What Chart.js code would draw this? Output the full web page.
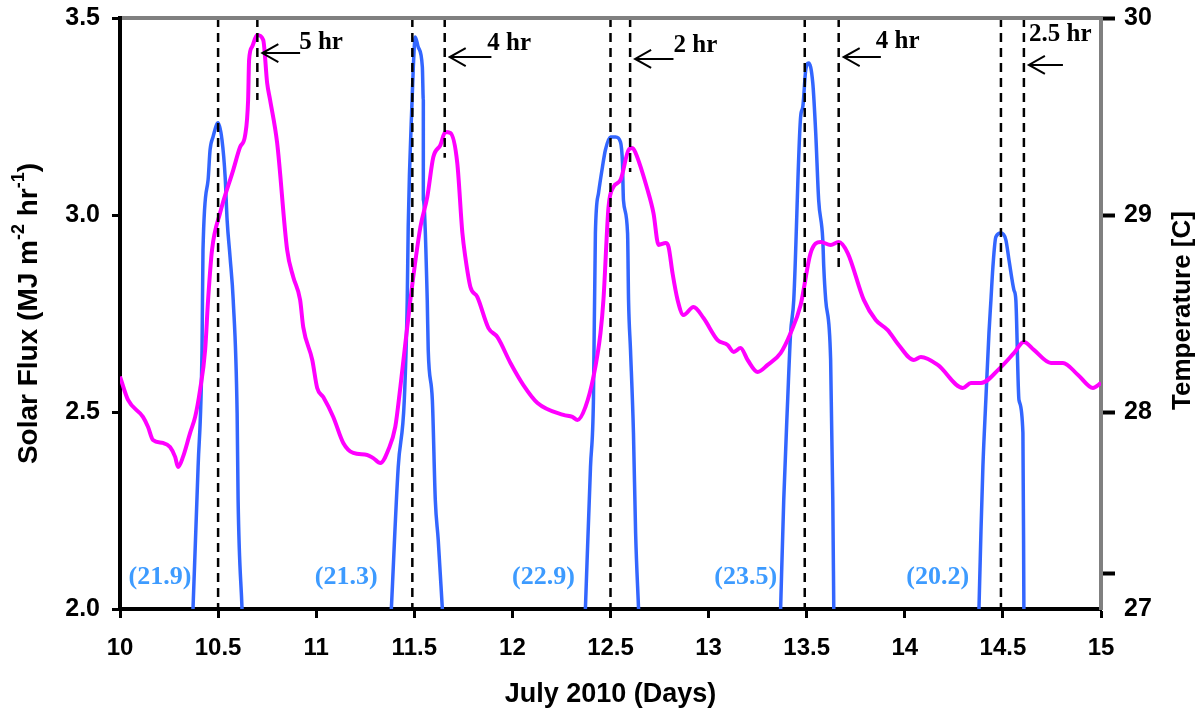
<!doctype html>
<html lang="en">
  <head>
    <meta charset="UTF-8" />
    <title>Solar Flux and Temperature, July 2010</title>
    <script src="https://cdn.jsdelivr.net/npm/chart.js"></script>
    <style>
      body {
        margin: 0;
        background: #fff;
      }
      #chart {
        display: block;
      }
    </style>
  </head>
  <body>
    <canvas id="chart" width="1203" height="715"></canvas>

    <script>
      // Axis ticks
      const xTickValues = [10, 10.5, 11, 11.5, 12, 12.5, 13, 13.5, 14, 14.5, 15];
      const xTickLabels = ['10', '10.5', '11', '11.5', '12', '12.5', '13', '13.5', '14', '14.5', '15'];
      const fluxTickValues = [2, 2.5, 3, 3.5];
      const fluxTickLabels = ['2.0', '2.5', '3.0', '3.5'];
      const tempTickValues = [27, 27.18, 28, 29, 30];
      const tempTickLabels = ['27', '', '28', '29', '30'];

      // Temperature [C] (magenta, right axis)
      const tempDays = [
        10.0, 10.041, 10.117, 10.143, 10.168, 10.219, 10.255, 10.281, 10.296, 10.321,
        10.357, 10.383, 10.408, 10.434, 10.449, 10.469, 10.51, 10.577, 10.612, 10.638,
        10.653, 10.658, 10.673, 10.699, 10.73, 10.75, 10.765, 10.801, 10.852, 10.883,
        10.918, 10.934, 10.98, 11.005, 11.036, 11.087, 11.138, 11.189, 11.26, 11.291,
        11.327, 11.367, 11.403, 11.429, 11.48, 11.531, 11.566, 11.597, 11.633, 11.658,
        11.684, 11.719, 11.745, 11.76, 11.786, 11.821, 11.878, 11.923, 11.99, 12.056,
        12.128, 12.26, 12.306, 12.332, 12.372, 12.413, 12.449, 12.464, 12.49, 12.515,
        12.551, 12.592, 12.612, 12.628, 12.689, 12.719, 12.745, 12.781, 12.796, 12.816,
        12.842, 12.872, 12.923, 12.974, 13.046, 13.097, 13.128, 13.163, 13.199, 13.25,
        13.301, 13.367, 13.418, 13.469, 13.52, 13.571, 13.622, 13.663, 13.709, 13.791,
        13.852, 13.913, 13.969, 14.046, 14.082, 14.168, 14.296, 14.337, 14.388, 14.49,
        14.556, 14.607, 14.658, 14.745, 14.806, 14.883, 14.959, 15.0
      ];
      const tempValues = [
        28.18, 28.061, 27.975, 27.924, 27.858, 27.843, 27.822, 27.772, 27.721, 27.772,
        27.893, 27.975, 28.112, 28.315, 28.569, 28.822, 29.01, 29.228, 29.345, 29.406,
        29.584, 29.787, 29.853, 29.914, 29.888, 29.67, 29.584, 29.365, 28.822, 28.685,
        28.569, 28.431, 28.264, 28.122, 28.076, 27.975, 27.843, 27.792, 27.782, 27.766,
        27.741, 27.807, 27.924, 28.127, 28.569, 28.939, 29.091, 29.294, 29.355, 29.421,
        29.416, 29.264, 28.909, 28.787, 28.635, 28.584, 28.426, 28.381, 28.249, 28.137,
        28.046, 27.985, 27.975, 27.959, 28.025, 28.178, 28.401, 28.569, 29.041, 29.142,
        29.178, 29.33, 29.34, 29.315, 29.127, 29.01, 28.848, 28.858, 28.838, 28.706,
        28.569, 28.492, 28.533, 28.477, 28.365, 28.34, 28.305, 28.325, 28.264, 28.203,
        28.239, 28.299, 28.401, 28.543, 28.807, 28.863, 28.848, 28.863, 28.807, 28.569,
        28.467, 28.416, 28.34, 28.264, 28.279, 28.239, 28.122, 28.147, 28.147, 28.228,
        28.299, 28.355, 28.315, 28.249, 28.249, 28.188, 28.122, 28.147
      ];

      // Solar flux (blue, left axis); null = night, below the axis range
      const fluxDays = [
        10.372, 10.398, 10.418, 10.423, 10.449, 10.459, 10.474, 10.5, 10.52, 10.536, 10.546, 10.561, 10.577, 10.597, 10.602, 10.622,
        11.0,
        11.383, 11.418, 11.449, 11.464, 11.469, 11.49, 11.495, 11.505, 11.52, 11.541, 11.546, 11.546, 11.566, 11.571, 11.592, 11.607, 11.622, 11.643,
        12.0,
        12.372, 12.398, 12.413, 12.423, 12.439, 12.459, 12.474, 12.5, 12.526, 12.551, 12.561, 12.566, 12.587, 12.592, 12.602, 12.617, 12.628, 12.643,
        13.0,
        13.367, 13.383, 13.403, 13.418, 13.434, 13.469, 13.48, 13.495, 13.51, 13.531, 13.546, 13.561, 13.582, 13.587, 13.597, 13.622, 13.633, 13.638,
        14.0,
        14.378, 14.388, 14.398, 14.413, 14.429, 14.439, 14.449, 14.464, 14.49, 14.515, 14.531, 14.556, 14.566, 14.582, 14.602, 14.607
      ];
      const fluxValues = [
        2.0, 2.36, 2.657, 2.911, 3.089, 3.165, 3.198, 3.234, 3.19, 3.096, 2.987, 2.893, 2.784, 2.497, 2.277, 2.0,
        null,
        2.0, 2.36, 2.53, 2.784, 2.97, 3.31, 3.376, 3.452, 3.426, 3.376, 3.292, 3.038, 2.784, 2.657, 2.53, 2.277, 2.175, 2.0,
        null,
        2.0, 2.36, 2.53, 2.954, 3.056, 3.122, 3.165, 3.198, 3.198, 3.185, 3.132, 3.038, 2.954, 2.784, 2.657, 2.447, 2.193, 2.0,
        null,
        2.0, 2.277, 2.53, 2.701, 2.784, 3.249, 3.274, 3.368, 3.386, 3.335, 3.208, 3.038, 2.937, 2.868, 2.784, 2.632, 2.277, 2.0,
        null,
        2.0, 2.193, 2.36, 2.53, 2.701, 2.784, 2.868, 2.944, 2.954, 2.937, 2.886, 2.81, 2.784, 2.53, 2.447, 2.0
      ];

      // Peak markers and lag annotations
      const solarPeakDays = [10.5, 11.49, 12.5, 13.49, 14.49];
      const tempPeakDays = [10.7, 11.655, 12.6, 13.663, 14.607];
      const tempPeakLineEnds = [3.292, 3.145, 3.109, 2.86, 2.67];
      const lagLabels = ['5 hr', '4 hr', '2 hr', '4 hr', '2.5 hr'];
      const lagArrowTailDays = [10.918, 11.893, 12.821, 13.878, 14.806];
      const lagArrowY = [3.411, 3.401, 3.396, 3.401, 3.381];
      const lagTextDays = [10.913, 11.872, 12.821, 13.852, 14.633];
      const lagTextY = [3.437, 3.434, 3.431, 3.439, 3.459];

      // Daily solar totals
      const dailyTotalLabels = ['(21.9)', '(21.3)', '(22.9)', '(23.5)', '(20.2)'];
      const dailyTotalDays = [10.204, 11.153, 12.158, 13.189, 14.168];
      const dailyTotalY = 2.081;

      const SANS = "'Liberation Sans', Arial, sans-serif";
      const SERIF = "'Liberation Serif', 'Times New Roman', serif";
      Chart.defaults.font.family = SANS;
      Chart.defaults.color = '#000';

      const dashedLines = [];
      solarPeakDays.forEach(d => {
        dashedLines.push({
          data: [{ x: d, y: 3.5 }, { x: d, y: 2.0 }],
          yAxisID: 'y',
          borderColor: '#000',
          borderWidth: 2.5,
          borderDash: [9, 6],
          order: 0,
        });
      });
      tempPeakDays.forEach((d, i) => {
        dashedLines.push({
          data: [{ x: d, y: 3.5 }, { x: d, y: tempPeakLineEnds[i] }],
          yAxisID: 'y',
          borderColor: '#000',
          borderWidth: 2.5,
          borderDash: [9, 6],
          order: 0,
        });
      });

      function drawRotated(ctx, cx, cy, parts) {
        ctx.save();
        ctx.translate(cx, cy);
        ctx.rotate(-Math.PI / 2);
        ctx.textBaseline = 'middle';
        ctx.textAlign = 'left';
        ctx.fillStyle = '#000';
        let total = 0;
        parts.forEach(p => {
          ctx.font = p.font;
          p.w = ctx.measureText(p.text).width;
          total += p.w;
        });
        let px = -total / 2;
        parts.forEach(p => {
          ctx.font = p.font;
          ctx.fillText(p.text, px, p.dy || 0);
          px += p.w;
        });
        ctx.restore();
      }

      const annotations = {
        id: 'annotations',
        afterDatasetsDraw(chart) {
          const { ctx, chartArea, scales } = chart;
          const x = scales.x;
          const y = scales.y;
          ctx.save();

          // gray top frame
          ctx.strokeStyle = '#808080';
          ctx.lineWidth = 4;
          ctx.beginPath();
          ctx.moveTo(chartArea.left + 2, chartArea.top);
          ctx.lineTo(chartArea.right + 2, chartArea.top);
          ctx.stroke();

          // lag arrows
          ctx.strokeStyle = '#000';
          ctx.lineWidth = 2;
          ctx.fillStyle = '#000';
          ctx.font = 'bold 25px ' + SERIF;
          ctx.textAlign = 'left';
          ctx.textBaseline = 'middle';
          lagLabels.forEach((txt, i) => {
            const tip = x.getPixelForValue(tempPeakDays[i]) + 5;
            const tail = x.getPixelForValue(lagArrowTailDays[i]);
            const ay = y.getPixelForValue(lagArrowY[i]);
            ctx.beginPath();
            ctx.moveTo(tail, ay);
            ctx.lineTo(tip, ay);
            ctx.moveTo(tip + 16, ay - 9);
            ctx.lineTo(tip, ay);
            ctx.lineTo(tip + 16, ay + 9);
            ctx.stroke();
            ctx.fillText(txt, x.getPixelForValue(lagTextDays[i]), y.getPixelForValue(lagTextY[i]));
          });

          // daily totals
          ctx.fillStyle = '#3d9bff';
          ctx.font = 'bold 26px ' + SERIF;
          ctx.textAlign = 'center';
          dailyTotalLabels.forEach((txt, i) => {
            ctx.fillText(txt, x.getPixelForValue(dailyTotalDays[i]), y.getPixelForValue(dailyTotalY));
          });
          ctx.restore();

          // axis titles
          const midY = (chartArea.top + chartArea.bottom) / 2;
          const big = 'bold 28px ' + SANS;
          const sup = 'bold 18px ' + SANS;
          drawRotated(ctx, 29, midY, [
            { text: 'Solar Flux (MJ m', font: big },
            { text: '-2', font: sup, dy: -10 },
            { text: ' hr', font: big },
            { text: '-1', font: sup, dy: -10 },
            { text: ')', font: big },
          ]);
          drawRotated(ctx, 1183, midY - 3, [{ text: 'Temperature [C]', font: 'bold 26px ' + SANS }]);
        },
      };

      const chart = new Chart(document.getElementById('chart').getContext('2d'), {
        type: 'line',
        data: {
          datasets: [
            {
              label: 'Temperature',
              data: tempDays.map((d, i) => ({ x: d, y: tempValues[i] })),
              yAxisID: 'y2',
              borderColor: '#ff00ff',
              borderWidth: 4,
              cubicInterpolationMode: 'monotone',
              order: 1,
            },
            {
              label: 'Solar Flux',
              data: fluxDays.map((d, i) => ({ x: d, y: fluxValues[i] })),
              yAxisID: 'y',
              borderColor: '#3366ff',
              borderWidth: 3.5,
              cubicInterpolationMode: 'monotone',
              spanGaps: false,
              order: 2,
            },
            ...dashedLines,
          ],
        },
        options: {
          responsive: false,
          animation: false,
          devicePixelRatio: 1,
          layout: { padding: { top: 18, left: 0, right: 0, bottom: 0 } },
          plugins: {
            legend: { display: false },
            tooltip: { enabled: false },
          },
          elements: {
            point: { radius: 0 },
            line: { tension: 0, borderCapStyle: 'butt', borderJoinStyle: 'round' },
          },
          scales: {
            x: {
              type: 'linear',
              position: 'bottom',
              min: 10,
              max: 15,
              afterBuildTicks: s => {
                s.ticks = xTickValues.map(v => ({ value: v }));
              },
              afterFit: s => {
                s.height = 106;
                s.paddingLeft = 0;
                s.paddingRight = 0;
              },
              ticks: {
                autoSkip: false,
                maxRotation: 0,
                padding: 16,
                color: '#000',
                font: { size: 24, weight: 'bold' },
                callback: (v, i) => xTickLabels[i],
              },
              grid: { drawOnChartArea: false, tickLength: 9, tickWidth: 3, tickColor: '#000' },
              border: { color: '#000', width: 4 },
              title: {
                display: true,
                text: 'July 2010 (Days)',
                color: '#000',
                font: { size: 27, weight: 'bold' },
                padding: { top: 0, bottom: 4 },
              },
            },
            y: {
              type: 'linear',
              position: 'left',
              min: 2,
              max: 3.5,
              afterBuildTicks: s => {
                s.ticks = fluxTickValues.map(v => ({ value: v }));
              },
              afterFit: s => {
                s.width = 120;
                s.paddingTop = 0;
                s.paddingBottom = 0;
              },
              ticks: {
                padding: 12,
                color: '#000',
                font: { size: 25, weight: 'bold' },
                callback: (v, i) => fluxTickLabels[i],
              },
              grid: { drawOnChartArea: false, tickLength: 8, tickWidth: 3, tickColor: '#000' },
              border: { color: '#000', width: 4 },
            },
            y2: {
              type: 'linear',
              position: 'right',
              min: 27,
              max: 30,
              afterBuildTicks: s => {
                s.ticks = tempTickValues.map(v => ({ value: v }));
              },
              afterFit: s => {
                s.width = 102;
                s.paddingTop = 0;
                s.paddingBottom = 0;
              },
              ticks: {
                padding: 9,
                color: '#000',
                font: { size: 25, weight: 'bold' },
                callback: (v, i) => tempTickLabels[i],
              },
              grid: {
                drawOnChartArea: false,
                tickLength: 14,
                tickWidth: 4,
                tickColor: c => (c.tick && c.tick.value === 27 ? 'rgba(0,0,0,0)' : '#000'),
              },
              border: { color: '#808080', width: 4 },
            },
          },
        },
        plugins: [annotations],
      });
    </script>
  </body>
</html>
